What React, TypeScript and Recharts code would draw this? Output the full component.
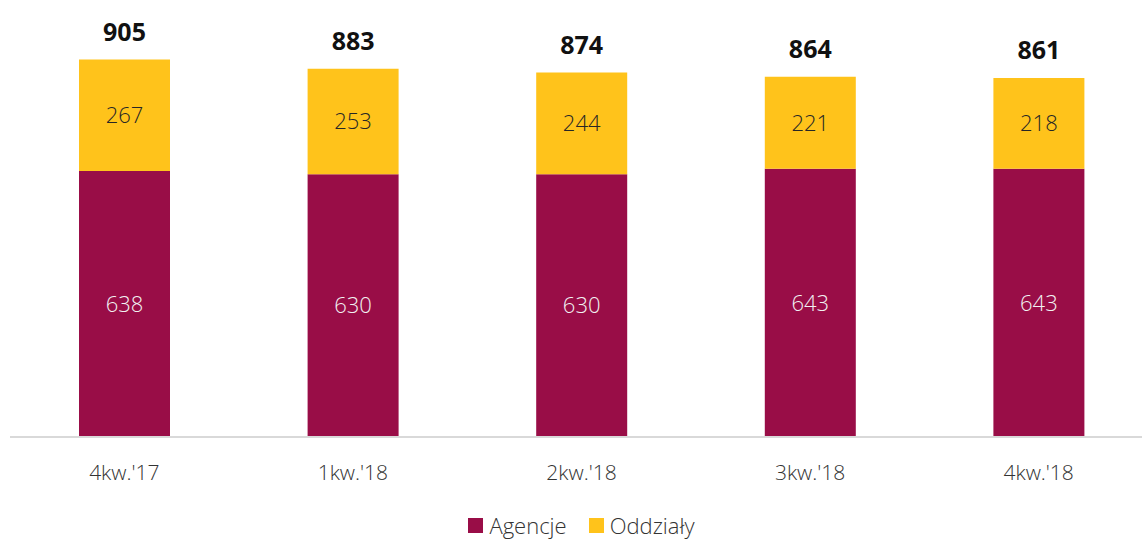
// Quarterly count of agencies and branches, stacked columns with totals on top

import { BarChart, Bar, XAxis, YAxis, LabelList, Legend } from 'recharts';

const quarters = ["4kw.'17", "1kw.'18", "2kw.'18", "3kw.'18", "4kw.'18"];
const agencje = [638, 630, 630, 643, 643];
const oddzialy = [267, 253, 244, 221, 218];
const totals = [905, 883, 874, 864, 861];

const MAROON = '#990D47';
const YELLOW = '#FFC31B';
const FONT = '"Open Sans", "Noto Sans", sans-serif';

const data = quarters.map((q, i) => ({
    quarter: q,
    agencje: agencje[i],
    oddzialy: oddzialy[i],
    total: totals[i],
}));

function LegendContent() {
    const items = [
        { label: 'Agencje', color: MAROON },
        { label: 'Oddziały', color: YELLOW },
    ];
    return (
        <div style={{ display: 'flex', justifyContent: 'center', gap: 22, paddingTop: 2, fontFamily: FONT, fontWeight: 300, fontSize: 22, lineHeight: '24px', color: '#333' }}>
            {items.map((it) => (
                <div key={it.label} style={{ display: 'flex', alignItems: 'center' }}>
                    <span style={{ width: 15, height: 15, background: it.color, display: 'inline-block', marginRight: 6 }} />
                    <span>{it.label}</span>
                </div>
            ))}
        </div>
    );
}

export default function App() {
    return (
        <div style={{ position: 'absolute', left: 0, top: 0, width: 1142, height: 539, overflow: 'hidden', background: '#fff' }}>
            <BarChart
                width={1153}
                height={539}
                data={data}
                margin={{ top: 20, right: 0, left: 10, bottom: 0 }}
                barSize={91}
            >
                <XAxis
                    dataKey="quarter"
                    height={74}
                    tickLine={false}
                    axisLine={{ stroke: '#d9d9d9', strokeWidth: 2 }}
                    tick={{ fill: '#333', fontSize: 21, fontFamily: FONT, fontWeight: 300 }}
                    tickMargin={22}
                    interval={0}
                />
                <YAxis hide domain={[0, 1000]} />
                <Legend verticalAlign="bottom" height={28} content={<LegendContent />} />
                <Bar dataKey="agencje" stackId="a" fill={MAROON} name="Agencje" isAnimationActive={false}>
                    <LabelList
                        dataKey="agencje"
                        position="center"
                        fill="#f2f2f2"
                        style={{ fontSize: 22, fontFamily: FONT, fontWeight: 300 }}
                    />
                </Bar>
                <Bar dataKey="oddzialy" stackId="a" fill={YELLOW} name="Oddziały" isAnimationActive={false}>
                    <LabelList
                        dataKey="oddzialy"
                        position="center"
                        fill="#262626"
                        style={{ fontSize: 22, fontFamily: FONT, fontWeight: 300 }}
                    />
                    <LabelList
                        dataKey="total"
                        position="top"
                        offset={19}
                        fill="#111"
                        style={{ fontSize: 25, fontFamily: FONT, fontWeight: 700 }}
                    />
                </Bar>
            </BarChart>
        </div>
    );
}
